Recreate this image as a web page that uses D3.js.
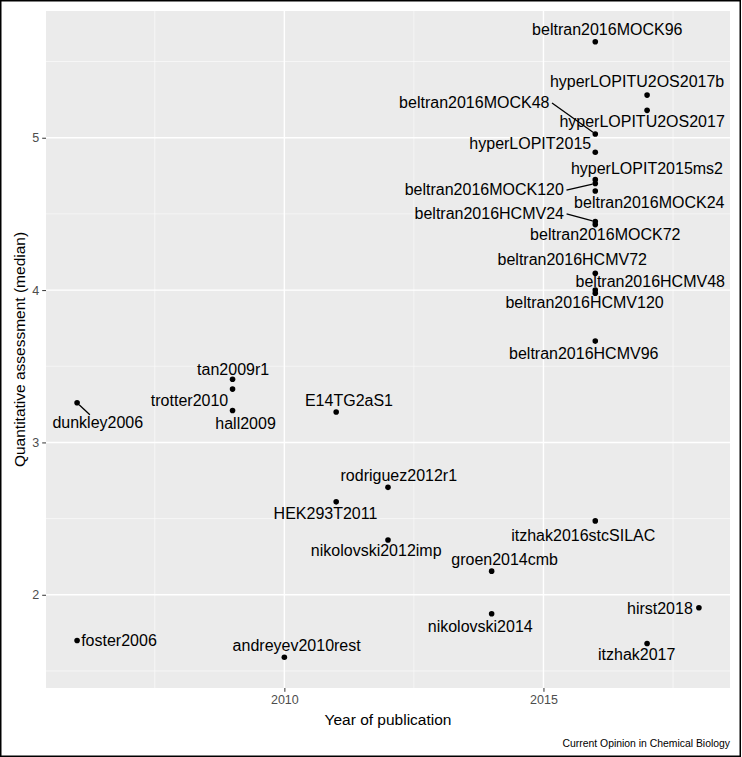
<!DOCTYPE html>
<html>
<head>
<meta charset="utf-8">
<script src="https://cdn.jsdelivr.net/npm/d3@7"></script>
<style>
  html, body { margin: 0; padding: 0; background: #fff; }
  svg { display: block; font-family: "Liberation Sans", Arial, Helvetica, sans-serif; }
</style>
</head>
<body>
<div id="chart"></div>
<script>
// ---- data ----
const names = [
  "beltran2016MOCK96", "hyperLOPITU2OS2017b", "hyperLOPITU2OS2017", "beltran2016MOCK48",
  "hyperLOPIT2015", "hyperLOPIT2015ms2", "beltran2016MOCK120", "beltran2016MOCK24",
  "beltran2016HCMV24", "beltran2016MOCK72", "beltran2016HCMV72", "beltran2016HCMV48",
  "beltran2016HCMV120", "beltran2016HCMV96", "tan2009r1", "trotter2010", "hall2009",
  "dunkley2006", "E14TG2aS1", "rodriguez2012r1", "HEK293T2011", "nikolovski2012imp",
  "groen2014cmb", "itzhak2016stcSILAC", "foster2006", "andreyev2010rest",
  "nikolovski2014", "hirst2018", "itzhak2017"
];
const years = [
  2016, 2017, 2017, 2016,
  2016, 2016, 2016, 2016,
  2016, 2016, 2016, 2016,
  2016, 2016, 2009, 2009, 2009,
  2006, 2011, 2012, 2011, 2012,
  2014, 2016, 2006, 2010,
  2014, 2018, 2017
];
const medians = [
  5.63, 5.28, 5.18, 5.025,
  4.905, 4.725, 4.70, 4.65,
  4.45, 4.43, 4.11, 4.00,
  3.98, 3.665, 3.415, 3.35, 3.21,
  3.26, 3.20, 2.705, 2.61, 2.36,
  2.155, 2.485, 1.70, 1.59,
  1.875, 1.915, 1.68
];
const xTicks = [2010, 2015];
const yTicks = [2, 3, 4, 5];
const xTitle = "Year of publication";
const yTitle = "Quantitative assessment (median)";
const caption = "Current Opinion in Chemical Biology";

// ---- label layout (pixel nudges relative to each point; not data) ----
const labelNudge = {
  "beltran2016MOCK96": [12, -6.7],
  "hyperLOPITU2OS2017b": [-10, -8.3],
  "hyperLOPITU2OS2017": [-5, 16.7],
  "beltran2016MOCK48": [-121, -26, "right"],
  "hyperLOPIT2015": [-65, -3],
  "hyperLOPIT2015ms2": [51.7, -6],
  "beltran2016MOCK120": [-111, 11.7, "right"],
  "beltran2016MOCK24": [54, 17.3],
  "beltran2016HCMV24": [-106, -2.7, "right"],
  "beltran2016MOCK72": [10, 15.7],
  "beltran2016HCMV72": [-23, -8.3],
  "beltran2016HCMV48": [55, -3.3],
  "beltran2016HCMV120": [-10.7, 15],
  "beltran2016HCMV96": [-11.5, 17.6],
  "tan2009r1": [0.6, -4],
  "trotter2010": [-43, 16.7],
  "hall2009": [13, 18.6],
  "dunkley2006": [20.7, 25, "center"],
  "E14TG2aS1": [12.8, -6],
  "rodriguez2012r1": [10.8, -6.6],
  "HEK293T2011": [-10.7, 17],
  "nikolovski2012imp": [-11.8, 16],
  "groen2014cmb": [13, -5.7],
  "itzhak2016stcSILAC": [-12, 19.7],
  "foster2006": [41.9, 6],
  "andreyev2010rest": [12.3, -6.6],
  "nikolovski2014": [-11.4, 17.7],
  "hirst2018": [-39, 6.3],
  "itzhak2017": [-10.4, 16]
};

const data = names.map((n, i) => ({ name: n, year: years[i], value: medians[i] }));

// ---- layout ----
const W = 742, H = 757;
const panel = { left: 46, right: 730, top: 11, bottom: 688 };

const xExt = d3.extent(years), yExt = d3.extent(medians);
const xPad = (xExt[1] - xExt[0]) * 0.05, yPad = (yExt[1] - yExt[0]) * 0.05;
const x = d3.scaleLinear().domain([xExt[0] - xPad, xExt[1] + xPad]).range([panel.left, panel.right]);
const y = d3.scaleLinear().domain([yExt[0] - yPad, yExt[1] + yPad]).range([panel.bottom, panel.top]);

const svg = d3.select("#chart").append("svg").attr("width", W).attr("height", H);

svg.append("rect").attr("x", 0).attr("y", 0).attr("width", W).attr("height", H).attr("fill", "#fff");

// panel background
svg.append("rect")
  .attr("x", panel.left).attr("y", panel.top)
  .attr("width", panel.right - panel.left).attr("height", panel.bottom - panel.top)
  .attr("fill", "#ebebeb");

// minor gridlines
const xMinor = [2007.5, 2012.5, 2017.5];
const yMinor = [1.5, 2.5, 3.5, 4.5, 5.5];
const grid = svg.append("g");
grid.selectAll("line.xm").data(xMinor).join("line")
  .attr("x1", d => x(d)).attr("x2", d => x(d))
  .attr("y1", panel.top).attr("y2", panel.bottom)
  .attr("stroke", "#fafafa").attr("stroke-width", 0.7);
grid.selectAll("line.ym").data(yMinor).join("line")
  .attr("y1", d => y(d)).attr("y2", d => y(d))
  .attr("x1", panel.left).attr("x2", panel.right)
  .attr("stroke", "#fafafa").attr("stroke-width", 0.7);
// major gridlines
grid.selectAll("line.xM").data(xTicks).join("line")
  .attr("x1", d => x(d)).attr("x2", d => x(d))
  .attr("y1", panel.top).attr("y2", panel.bottom)
  .attr("stroke", "#fff").attr("stroke-width", 1.4);
grid.selectAll("line.yM").data(yTicks).join("line")
  .attr("y1", d => y(d)).attr("y2", d => y(d))
  .attr("x1", panel.left).attr("x2", panel.right)
  .attr("stroke", "#fff").attr("stroke-width", 1.4);

// axes
const xAxis = d3.axisBottom(x).tickValues(xTicks).tickFormat(d3.format("d")).tickSize(3.8).tickPadding(3);
const gx = svg.append("g").attr("transform", `translate(0,${panel.bottom})`).call(xAxis);
gx.select(".domain").remove();
gx.selectAll(".tick line").attr("stroke", "#333").attr("stroke-width", 1);
gx.selectAll(".tick text").attr("fill", "#4d4d4d").attr("font-size", 12.5)
  .attr("font-family", "Liberation Sans, Arial, sans-serif");

const yAxis = d3.axisLeft(y).tickValues(yTicks).tickFormat(d3.format("d")).tickSize(3.8).tickPadding(3);
const gy = svg.append("g").attr("transform", `translate(${panel.left},0)`).call(yAxis);
gy.select(".domain").remove();
gy.selectAll(".tick line").attr("stroke", "#333").attr("stroke-width", 1);
gy.selectAll(".tick text").attr("fill", "#4d4d4d").attr("font-size", 12.5)
  .attr("font-family", "Liberation Sans, Arial, sans-serif");

// axis titles
svg.append("text")
  .attr("x", (panel.left + panel.right) / 2).attr("y", 725)
  .attr("text-anchor", "middle").attr("font-size", 15.5).attr("fill", "#000")
  .text(xTitle);
svg.append("text")
  .attr("transform", `translate(25,${(panel.top + panel.bottom) / 2}) rotate(-90)`)
  .attr("text-anchor", "middle").attr("font-size", 15.5).attr("fill", "#000")
  .text(yTitle);

// caption
svg.append("text")
  .attr("x", panel.right).attr("y", 747)
  .attr("text-anchor", "end").attr("font-size", 10.4).attr("fill", "#000")
  .text(caption);

// labels
const R = 2.8;
const labG = svg.append("g");
const segG = svg.append("g");
data.forEach(d => {
  const nud = labelNudge[d.name] || [0, 0];
  const px = x(d.year), py = y(d.value);
  const t = labG.append("text")
    .attr("x", px + nud[0]).attr("y", py + nud[1])
    .attr("text-anchor", "middle").attr("font-size", 16).attr("fill", "#000")
    .text(d.name);
  if (nud[2]) {
    const bb = t.node().getBBox();
    let sx, sy;
    if (nud[2] === "right") {
      sx = bb.x + bb.width + 2.5; sy = py + nud[1] - 5;
    } else {
      // intersection of line from label centre to point with padded top edge
      const cx = bb.x + bb.width / 2, cy = bb.y + bb.height / 2;
      const top = bb.y + 1;
      const tt = (cy - top) / (cy - py);
      sx = cx + (px - cx) * tt; sy = top;
    }
    const dxl = px - sx, dyl = py - sy, L = Math.hypot(dxl, dyl);
    const ex = px - dxl / L * R, ey = py - dyl / L * R;
    segG.append("line")
      .attr("x1", sx).attr("y1", sy).attr("x2", ex).attr("y2", ey)
      .attr("stroke", "#000").attr("stroke-width", 1.3);
  }
});

// points
svg.append("g").selectAll("circle").data(data).join("circle")
  .attr("cx", d => x(d.year)).attr("cy", d => y(d.value))
  .attr("r", R).attr("fill", "#000");

// outer frame
svg.append("rect")
  .attr("x", 0.75).attr("y", 0.75).attr("width", W - 2.5).attr("height", H - 1.5)
  .attr("fill", "none").attr("stroke", "#000").attr("stroke-width", 1.5);
</script>
</body>
</html>
